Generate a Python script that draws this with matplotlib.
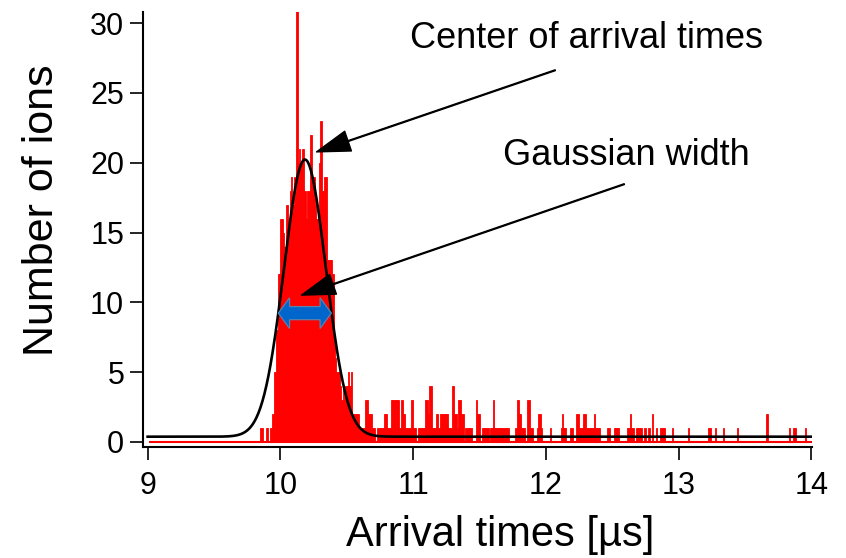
import numpy as np
import matplotlib
matplotlib.use("Agg")
import matplotlib.pyplot as plt
import matplotlib.patches as mpatches

plt.rcParams["font.family"] = ["Liberation Sans", "DejaVu Sans"]

# ── histogram of arrival times (bins of 0.01 µs, starting at 9.80 µs) ──
bin_start = 9.80
bin_width = 0.01
counts = [
    0, 0, 0, 0, 0, 1, 1, 0, 0, 1,            # 9.80
    1, 0, 1, 1, 2, 5, 5, 8, 12, 12,          # 9.90
    16, 16, 15, 14, 17, 17, 16, 18, 19, 17,  # 10.00
    19, 18, 31, 20, 21, 20, 21, 21, 18, 16,  # 10.10
    18, 18, 22, 22, 19, 19, 17, 16, 16, 20,  # 10.20
    23, 18, 18, 19, 19, 13, 13, 13, 13, 12,  # 10.30
    7, 6, 5, 5, 5, 4, 3, 4, 3, 4,            # 10.40
    4, 5, 4, 5, 2, 2, 2, 2, 2, 1,            # 10.50
    1, 1, 1, 1, 3, 3, 2, 2, 2, 1,            # 10.60
    1, 0, 0, 1, 1, 1, 1, 1, 2, 2,            # 10.70
    1, 1, 1, 3, 3, 3, 3, 3, 3, 1,            # 10.80
    1, 3, 2, 2, 1, 1, 1, 1, 3, 3,            # 10.90
    1, 1, 0, 0, 1, 1, 1, 1, 1, 3,            # 11.00
    3, 2, 4, 4, 1, 1, 1, 2, 2, 1,            # 11.10
    2, 2, 2, 2, 2, 2, 1, 1, 1, 4,            # 11.20
    4, 2, 2, 1, 3, 3, 2, 2, 0, 1,            # 11.30
    1, 1, 1, 1, 0, 0, 0, 3, 2, 2,            # 11.40
    0, 0, 1, 1, 1, 1, 1, 0, 1, 1,            # 11.50
    3, 1, 1, 1, 1, 1, 1, 1, 1, 1,            # 11.60
    1, 1, 0, 0, 0, 0, 0, 1, 3, 3,            # 11.70
    2, 1, 1, 1, 0, 0, 3, 3, 1, 1,            # 11.80
    0, 0, 0, 1, 2, 2, 1, 0, 0, 0,            # 11.90
    0, 0, 0, 1, 0, 0, 0, 0, 0, 0,            # 12.00
    0, 1, 2, 1, 1, 0, 0, 0, 1, 1,            # 12.10
    0, 0, 0, 2, 2, 1, 1, 1, 2, 2,            # 12.20
    1, 1, 1, 1, 1, 1, 2, 1, 1, 1,            # 12.30
    1, 0, 0, 0, 0, 0, 1, 1, 0, 0,            # 12.40
    0, 1, 1, 1, 1, 0, 0, 0, 0, 0,            # 12.50
    0, 1, 1, 2, 1, 1, 0, 0, 1, 1,            # 12.60
    1, 1, 0, 0, 1, 0, 0, 1, 0, 0,            # 12.70
    2, 0, 0, 1, 0, 0, 1, 1, 1, 1,            # 12.80
    0, 0, 0, 0, 0, 1, 0, 0, 0, 0,            # 12.90
    0, 0, 0, 0, 0, 0, 0, 1, 0, 0,            # 13.00
    0, 0, 0, 0, 0, 0, 0, 0, 0, 0,            # 13.10
    0, 0, 1, 1, 0, 0, 0, 1, 0, 0,            # 13.20
    0, 0, 0, 1, 0, 0, 0, 0, 0, 0,            # 13.30
    0, 0, 0, 0, 1, 0, 0, 0, 0, 0,            # 13.40
    0, 0, 0, 0, 0, 0, 0, 0, 0, 0,            # 13.50
    0, 0, 0, 0, 0, 0, 2, 0, 0, 0,            # 13.60
    0, 0, 0, 0, 0, 0, 0, 0, 0, 0,            # 13.70
    0, 0, 0, 1, 0, 0, 1, 1, 0, 0,            # 13.80
    0, 0, 0, 0, 0, 1, 0, 0, 0, 0,            # 13.90
]

# gaussian fit parameters
fit_offset = 0.38
fit_amp = 19.85
fit_center = 10.185
fit_sigma = 0.158

x_ticks = [9, 10, 11, 12, 13, 14]
y_ticks = [0, 5, 10, 15, 20, 25, 30]

counts = np.array(counts, dtype=float)
edges = bin_start + bin_width * np.arange(len(counts))
nz = counts > 0

fig = plt.figure(figsize=(8.46, 5.58), dpi=100)
ax = fig.add_axes([0.169, 0.1989, 0.7910, 0.7796])

ax.bar(edges[nz], counts[nz], width=bin_width, align="edge",
       color="#ff0000", edgecolor="#ff0000", linewidth=0.6, zorder=2)
ax.hlines(0, 9.01, 14.005, color="#ff0000", linewidth=1.5, zorder=2)

xf = np.linspace(9.0, 14.0, 1001)
yf = fit_offset + fit_amp * np.exp(-(xf - fit_center) ** 2 / (2 * fit_sigma ** 2))
ax.plot(xf, yf, color="black", linewidth=1.9, zorder=3)

# blue double arrow marking the gaussian width (one polygon)
x0, x1, yc = 9.984, 10.384, 9.23
hl, hw, sw = 0.085, 1.1, 0.47
blue_pts = [(x0, yc), (x0 + hl, yc + hw), (x0 + hl, yc + sw),
            (x1 - hl, yc + sw), (x1 - hl, yc + hw), (x1, yc),
            (x1 - hl, yc - hw), (x1 - hl, yc - sw), (x0 + hl, yc - sw),
            (x0 + hl, yc - hw)]
ax.add_patch(mpatches.Polygon(blue_pts, closed=True, facecolor="#0066cc",
                              edgecolor="#5a82ad", linewidth=0.9, zorder=4))

arrow_kw = dict(facecolor="black", edgecolor="black", width=0.6,
                headwidth=15, headlength=24, shrink=0)
ax.annotate("", xy=(10.272, 20.78), xytext=(12.07, 26.63),
            arrowprops=arrow_kw, zorder=5)
ax.annotate("", xy=(10.159, 10.52), xytext=(12.59, 18.47),
            arrowprops=arrow_kw, zorder=5)
ax.text(10.973, 28.9, "Center of arrival times", fontsize=26,
        va="center", ha="left")
ax.text(11.673, 20.55, "Gaussian width", fontsize=26,
        va="center", ha="left")

ax.set_xlim(8.965, 14.005)
ax.set_ylim(-0.36, 30.8)
ax.set_xticks(x_ticks)
ax.set_yticks(y_ticks)
ax.tick_params(direction="out", length=9.5, width=1.2, labelsize=22, pad=4)
ax.tick_params(axis="x", pad=8)
for side in ("top", "right"):
    ax.spines[side].set_visible(False)
for side in ("left", "bottom"):
    ax.spines[side].set_linewidth(1.5)

fig.text(500 / 846, 1 - 535 / 558, "Arrival times [µs]", fontsize=30,
         ha="center", va="center")
fig.text(42 / 846, 1 - 210 / 558, "Number of ions", fontsize=31,
         ha="center", va="center", rotation=90)

fig.savefig("out.png", dpi=100)
